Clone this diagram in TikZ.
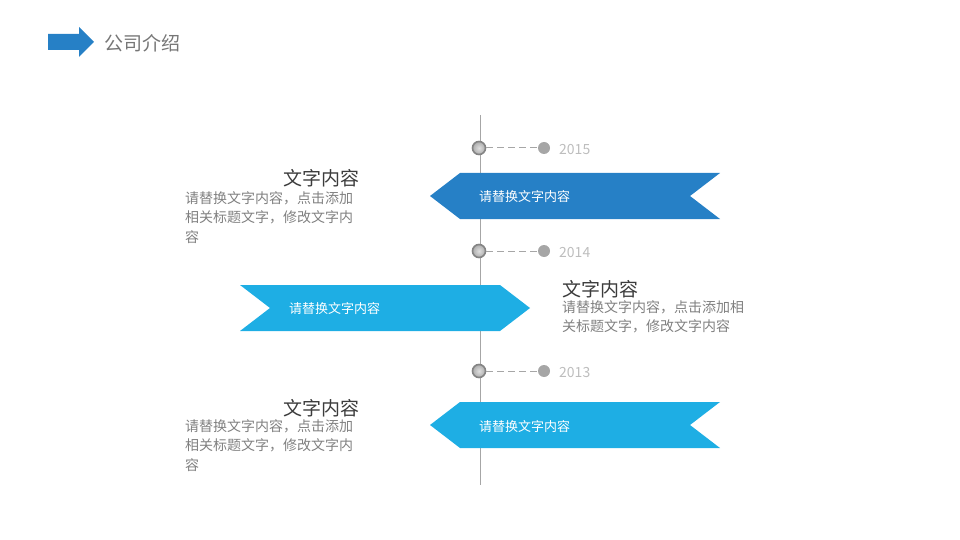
\documentclass[tikz,border=0pt]{standalone}
\usepackage{fontspec}
\setmainfont{Noto Sans CJK SC}
\usetikzlibrary{shadings}
\definecolor{darkblue}{HTML}{2680C6}
\definecolor{lightblue}{HTML}{1EAEE4}
\definecolor{linegray}{HTML}{A6A6A6}
\definecolor{yeargray}{HTML}{BDBDBD}
\definecolor{titlegray}{HTML}{3C3C3C}
\definecolor{bodygray}{HTML}{808080}
\definecolor{headgray}{HTML}{767676}
\tikzset{
  ribtext/.style={text=white, font=\fontsize{13}{15}\selectfont, anchor=west, inner sep=0pt},
  yeartext/.style={text=yeargray, font=\fontsize{14}{16}\selectfont, anchor=west, inner sep=0pt},
  blocktitle/.style={text=titlegray, font=\fontsize{19}{22}\selectfont, inner sep=0pt},
  blockbody/.style={text=bodygray, font=\fontsize{14}{19.5}\selectfont, align=left, anchor=north west, inner sep=0pt},
  dotsmall/.style={circle, fill=linegray, minimum size=12pt, inner sep=0pt},
  dotbig/.style={circle, draw=headgray!90, line width=1.6pt, inner color=gray!25, outer color=gray!65, minimum size=13pt, inner sep=0pt},
  dashlink/.style={draw=linegray, line width=1pt, dash pattern=on 7pt off 4pt}
}
\begin{document}
\begin{tikzpicture}[x=1pt,y=-1pt]
\useasboundingbox (0,0) rectangle (960,540);
% header
\fill[darkblue] (48,34) -- (79,34) -- (79,27) -- (94,42) -- (79,57) -- (79,50) -- (48,50) -- cycle;
\node[anchor=west, inner sep=0pt, text=headgray, font=\fontsize{19}{21}\selectfont] (head) at (104,43) {公司介绍};
% timeline
\coordinate (ltop) at (480,115);
\coordinate (lbot) at (480,485);
\draw[linegray, line width=1pt] (ltop) -- (lbot);
% ribbons
\fill[darkblue] (430,196) -- (460,173) -- (720,173) -- (690,196) -- (720,219) -- (460,219) -- cycle;
\fill[lightblue] (240,285) -- (500,285) -- (530,308) -- (500,331) -- (240,331) -- (270,308) -- cycle;
\fill[lightblue] (430,425) -- (460,402) -- (720,402) -- (690,425) -- (720,448) -- (460,448) -- cycle;
\node[ribtext] (r1) at (479,197) {请替换文字内容};
\node[ribtext] (r2) at (289,309) {请替换文字内容};
\node[ribtext] (r3) at (479,427) {请替换文字内容};
% year markers
\foreach \n/\y/\yr in {a/148/2015, b/251/2014, c/371/2013}{
  \node[dotbig] (big\n) at (479,\y) {};
  \node[dotsmall] (small\n) at (544,\y) {};
  \draw[dashlink] (big\n) -- (small\n);
  \node[yeartext] (year\n) at (559,\y+2) {\yr};
}
% text blocks
\node[blocktitle, anchor=east] (t1) at (360,178) {文字内容};
\node[blockbody] (b1) at (185,191) {请替换文字内容，点击添加\\相关标题文字，修改文字内\\容};
\node[blocktitle, anchor=west] (t2) at (562,289) {文字内容};
\node[blockbody] (b2) at (562,300) {请替换文字内容，点击添加相\\关标题文字，修改文字内容};
\node[blocktitle, anchor=east] (t3) at (360,408) {文字内容};
\node[blockbody] (b3) at (185,419) {请替换文字内容，点击添加\\相关标题文字，修改文字内\\容};
\end{tikzpicture}
\end{document}
